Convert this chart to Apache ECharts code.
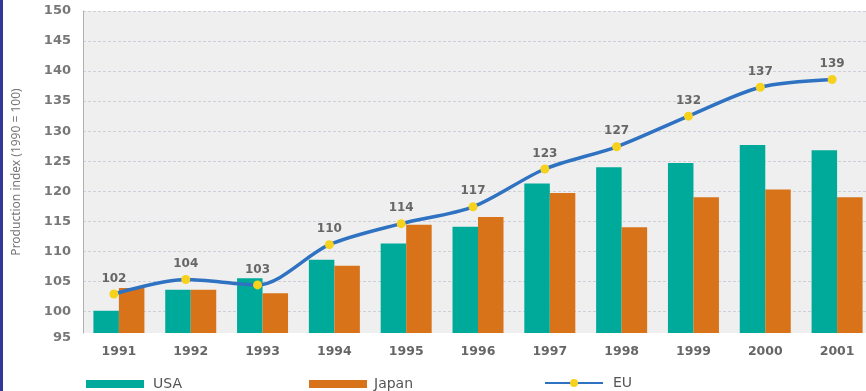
<!DOCTYPE html>
<html>
<head>
<meta charset="utf-8">
<script src="https://cdn.jsdelivr.net/npm/echarts@6/dist/echarts.min.js"></script>
<style>
html,body{margin:0;padding:0;background:#fff;}
#chart{width:866px;height:391px;}
</style>
</head>
<body>
<div id="chart"></div>
<script>
var categories = ['1991','1992','1993','1994','1995','1996','1997','1998','1999','2000','2001'];
var usaValues = [100.1, 103.6, 105.5, 108.6, 111.3, 114.1, 121.3, 124.0, 124.7, 127.7, 126.8];
var japanValues = [103.9, 103.6, 103.0, 107.6, 114.4, 115.7, 119.7, 114.0, 119.0, 120.3, 119.0];
var euValues = [102.9, 105.3, 104.4, 111.1, 114.6, 117.4, 123.7, 127.4, 132.5, 137.3, 138.6];
var euLabels = ['102','104','103','110','114','117','123','127','132','137','139'];
var yTickLabels = [95, 100, 105, 110, 115, 120, 125, 130, 135, 140, 145, 150];
var yAxisName = 'Production index (1990 = 100)';

var yMin = 96.4, yMax = 150;
var labelVals = yTickLabels.map(function(v){ return Math.max(v, yMin); });
var gridVals = yTickLabels.filter(function(v){ return v > yMin; });

var chart = echarts.init(document.getElementById('chart'), null, {renderer:'canvas'});
var axisFont = 'DejaVu Sans';
var option = {
  animation: false,
  backgroundColor: '#ffffff',
  graphic: [{type:'rect', left:0, top:0, shape:{width:3, height:391}, style:{fill:'#36369a'}}],
  grid: [
    {left:83, top:11, width:790, height:322, show:true, backgroundColor:'#efefef', borderWidth:0, outerBoundsMode:'none', containLabel:false},
    {left:78, top:11, width:790, height:322, show:false, outerBoundsMode:'none', containLabel:false}
  ],
  legend: [
    {left:81, top:372, data:['USA'], itemWidth:58, itemHeight:8, icon:'rect',
     textStyle:{fontFamily:axisFont, fontSize:14, color:'#555', padding:[0,0,0,4]}},
    {left:304, top:372, data:['Japan'], itemWidth:58, itemHeight:8, icon:'rect',
     textStyle:{fontFamily:axisFont, fontSize:14, color:'#555', padding:[0,0,0,2]}},
    {left:539, top:371, data:['EU'], itemWidth:58, itemHeight:10,
     textStyle:{fontFamily:axisFont, fontSize:14, color:'#555', padding:[0,0,0,5]}}
  ],
  xAxis: [
    {type:'category', gridIndex:0, data:categories,
     axisLine:{show:false}, axisTick:{show:false},
     axisLabel:{margin:12, fontFamily:axisFont, fontSize:12.5, fontWeight:'bold', color:'#666'}},
    {type:'category', gridIndex:1, data:categories, show:false}
  ],
  yAxis: [
    {type:'value', gridIndex:0, min:yMin, max:yMax,
     name:yAxisName, nameLocation:'middle', nameGap:60, nameRotate:90,
     nameTextStyle:{fontFamily:'Noto Sans', fontSize:12, color:'#777'},
     axisLine:{show:true, lineStyle:{color:'#b0b0b0', width:1}},
     axisTick:{show:false, customValues:gridVals},
     axisLabel:{customValues:labelVals, margin:12, fontFamily:axisFont, fontSize:13, fontWeight:'bold', color:'#777',
       formatter:function(v){ return v <= yMin + 0.01 ? '{low|' + yTickLabels[0] + '}' : String(Math.round(v)); },
       rich:{low:{fontFamily:axisFont, fontSize:13, fontWeight:'bold', color:'#777', padding:[10,0,0,0]}}},
     splitLine:{show:true, lineStyle:{color:'#cdd0d9', type:[3,2], width:1}}},
    {type:'value', gridIndex:1, min:yMin, max:yMax, show:false, splitLine:{show:false}}
  ],
  series: [
    {name:'USA', type:'bar', data:usaValues, barWidth:25.5, barGap:'0%',
     itemStyle:{color:'#00aa9a'}},
    {name:'Japan', type:'bar', data:japanValues, barWidth:25.5, barGap:'0%',
     itemStyle:{color:'#d8731a'}},
    {name:'EU', type:'line', xAxisIndex:1, yAxisIndex:1, data:euValues, smooth:0.3,
     symbol:'circle', symbolSize:9, z:5,
     lineStyle:{color:'#2f72c2', width:3.5},
     itemStyle:{color:'#f6d21c', borderWidth:0},
     label:{show:true, position:'top', distance:5,
       formatter:function(p){ return euLabels[p.dataIndex]; },
       fontFamily:axisFont, fontSize:12, fontWeight:'bold', color:'#666'}}
  ]
};
chart.setOption(option);
</script>
</body>
</html>
